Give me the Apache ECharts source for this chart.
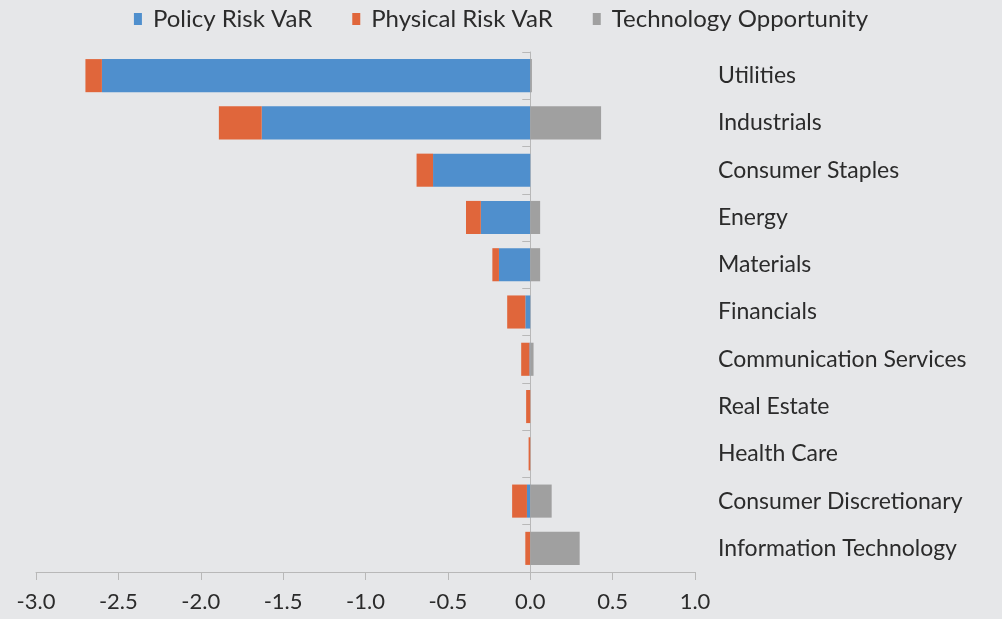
<!DOCTYPE html>
<html>
<head>
<meta charset="utf-8">
<script src="https://cdn.jsdelivr.net/npm/echarts@6/dist/echarts.min.js"></script>
<style>
  html, body { margin: 0; padding: 0; background: #e6e7e9; }
  #chart { width: 1002px; height: 619px; }
</style>
</head>
<body>
<div id="chart"></div>
<script>
// Sectors, top to bottom
const sectors = [
  'Utilities', 'Industrials', 'Consumer Staples', 'Energy', 'Materials',
  'Financials', 'Communication Services', 'Real Estate', 'Health Care',
  'Consumer Discretionary', 'Information Technology'
];
// Climate value-at-risk components by sector
const policyRisk   = [-2.60, -1.63, -0.59, -0.30, -0.19, -0.03, -0.005, 0, 0, -0.02, 0];
const physicalRisk = [-0.10, -0.26, -0.10, -0.09, -0.04, -0.11, -0.05, -0.025, -0.01, -0.09, -0.03];
const techOpportunity = [0.01, 0.43, 0, 0.06, 0.06, 0, 0.02, 0, 0, 0.13, 0.30];
const xTicks = { min: -3, max: 1, interval: 0.5 };

const FONT = 'Lato, "Open Sans", sans-serif';
const TEXT = '#2b2b2b';
const AXIS = '#b8b8b8';

const chart = echarts.init(document.getElementById('chart'), null, { renderer: 'canvas' });

function barSeries(name, data, color) {
  return {
    name, type: 'bar', stack: 'var', data,
    yAxisIndex: 0, barWidth: '70%',
    itemStyle: { color },
    emphasis: { disabled: true }
  };
}

chart.setOption({
  backgroundColor: '#e6e7e9',
  animation: false,
  textStyle: { fontFamily: FONT },
  legend: {
    top: 2, left: 'center',
    itemWidth: 8, itemHeight: 12, itemGap: 40,
    icon: 'rect',
    textStyle: { fontFamily: FONT, fontSize: 24, color: TEXT, padding: [0, 0, 0, 6] },
    data: ['Policy Risk VaR', 'Physical Risk VaR', 'Technology Opportunity']
  },
  grid: { left: 36, right: 307, top: 52, bottom: 47 },
  xAxis: {
    type: 'value', min: xTicks.min, max: xTicks.max, interval: xTicks.interval,
    axisLine: { show: true, lineStyle: { color: AXIS, width: 1 } },
    axisTick: { show: true, length: 8, lineStyle: { color: AXIS } },
    splitLine: { show: false },
    axisLabel: {
      fontSize: 22, color: TEXT, margin: 19, fontFamily: FONT,
      formatter: v => v.toFixed(1)
    }
  },
  yAxis: [
    {
      // zero line with ticks between sectors
      type: 'category', data: sectors, inverse: true,
      axisLine: { show: true, onZero: true, lineStyle: { color: AXIS } },
      axisTick: { show: true, length: 8, lineStyle: { color: AXIS } },
      axisLabel: { show: false },
      splitLine: { show: false }
    },
    {
      // sector names on the right side
      type: 'category', data: sectors, inverse: true, position: 'right',
      axisLine: { show: false, onZero: false },
      axisTick: { show: false },
      axisLabel: { show: true, fontSize: 23, color: TEXT, margin: 23, fontFamily: FONT }
    }
  ],
  series: [
    barSeries('Policy Risk VaR', policyRisk, '#4f8fcd'),
    barSeries('Physical Risk VaR', physicalRisk, '#e0663b'),
    barSeries('Technology Opportunity', techOpportunity, '#a0a0a0')
  ]
});
</script>
</body>
</html>
